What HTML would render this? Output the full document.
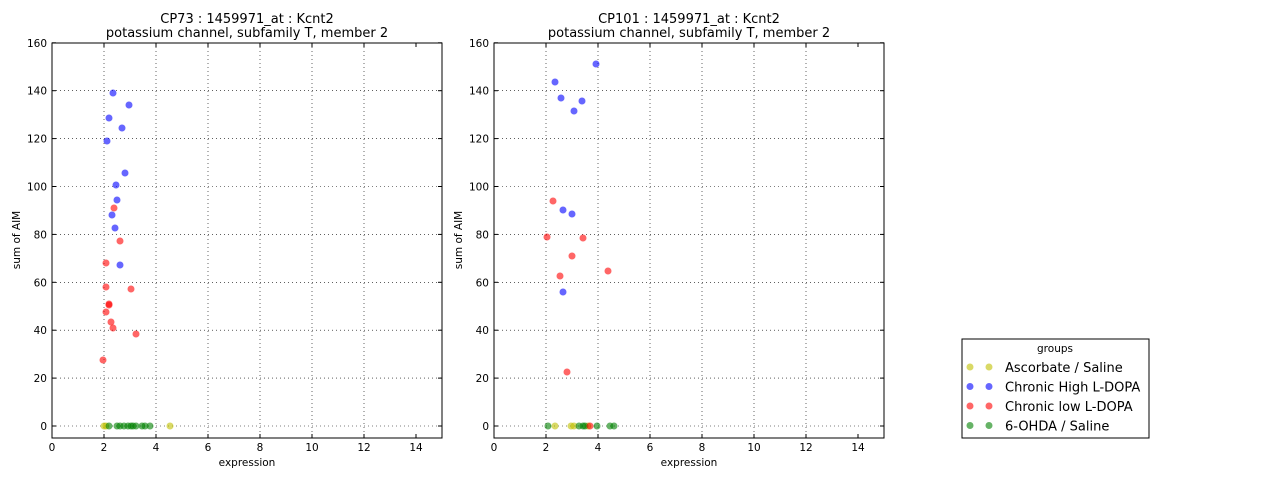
<!DOCTYPE html><html><head><style>body{margin:0;background:#fff}svg{font-family:"DejaVu Sans","Liberation Sans",sans-serif}</style></head><body>
<svg width="1280" height="480" xmlns="http://www.w3.org/2000/svg">
<rect width="1280" height="480" fill="#fff"/>
<g font-size="13" text-anchor="middle" fill="#000">
<text x="247" y="23">CP73 : 1459971_at : Kcnt2</text><text x="247" y="37">potassium channel, subfamily T, member 2</text>
<text x="689" y="23">CP101 : 1459971_at : Kcnt2</text><text x="689" y="37">potassium channel, subfamily T, member 2</text>
</g>
<g id="ax">
</g>
<script>
<![CDATA[
var s='';function ax(x0){var g='';
for(var i=0;i<=7;i++){var x=x0+i*26*2;g+=(i>0&&i<7?'<line x1="'+x+'" y1="43" x2="'+x+'" y2="438" stroke="#000" stroke-width="0.6" stroke-dasharray="1,3"/>':'')+'<line x1="'+x+'" y1="438" x2="'+x+'" y2="434" stroke="#000"/><line x1="'+x+'" y1="43" x2="'+x+'" y2="47" stroke="#000"/><text x="'+x+'" y="451" font-size="10.5" text-anchor="middle">'+(i*2)+'</text>';}
for(var j=0;j<=8;j++){var y=426-j*47.9;g+='<line x1="'+x0+'" y1="'+y+'" x2="'+(x0+390)+'" y2="'+y+'" stroke="#000" stroke-width="0.6" stroke-dasharray="1,3"/><line x1="'+x0+'" y1="'+y+'" x2="'+(x0+4)+'" y2="'+y+'" stroke="#000"/><line x1="'+(x0+390)+'" y1="'+y+'" x2="'+(x0+386)+'" y2="'+y+'" stroke="#000"/><text x="'+(x0-5)+'" y="'+(y+4)+'" font-size="10.5" text-anchor="end">'+(j*20)+'</text>';}
g+='<rect x="'+x0+'" y="43" width="390" height="395" fill="none" stroke="#000"/>';
g+='<text x="'+(x0+195)+'" y="466" font-size="10.5" text-anchor="middle">expression</text>';
g+='<text transform="translate('+(x0-32)+',240) rotate(-90)" font-size="10.5" text-anchor="middle">sum of AIM</text>';return g;}
function pts(c,a){var g='';for(var i=0;i<a.length;i+=2)g+='<circle cx="'+a[i]+'" cy="'+a[i+1]+'" r="3.5" fill="'+c+'" fill-opacity="0.6"/>';return g;}
var B='#0000ff',R='#ff0000',G='#008000',Y='#bfbf00';
s+=ax(52)+ax(494);
s+=pts(Y,[104,426,106,426,170,426]);
s+=pts(G,[109,426,117,426,120,426,124,426,128,426,131,426,133,426,136,426,142,426,145,426,150,426]);
s+=pts(B,[113,93,129,105,109,118,122,128,107,141,125,173,116,185,117,200,112,215,115,228,120,265]);
s+=pts(R,[114,208,120,241,106,263,106,287,131,289,109,304,109,305,106,312,111,322,113,328,136,334,103,360]);
s+=pts(Y,[555,426,571,426,574,426,588,426]);
s+=pts(G,[548,426,579,426,583,426,585,426,597,426,610,426,614,426]);
s+=pts(R,[590,426]);
s+=pts(B,[555,82,596,64,561,98,582,101,574,111,563,210,572,214,563,292]);
s+=pts(R,[553,201,547,237,583,238,572,256,560,276,608,271,567,372]);
s+='<rect x="962" y="339" width="187" height="99" fill="#fff" stroke="#000"/><text x="1055" y="352" font-size="10.5" text-anchor="middle">groups</text>';
var L=[[Y,'Ascorbate / Saline'],[B,'Chronic High L-DOPA'],[R,'Chronic low L-DOPA'],[G,'6-OHDA / Saline']];
for(var k=0;k<4;k++){var y=367+k*19.5;s+=pts(L[k][0],[970,y,989,y])+'<text x="1005" y="'+(y+5)+'" font-size="13">'+L[k][1]+'</text>';}
document.getElementById('ax').innerHTML=s;
]]>
</script>
</svg></body></html>
